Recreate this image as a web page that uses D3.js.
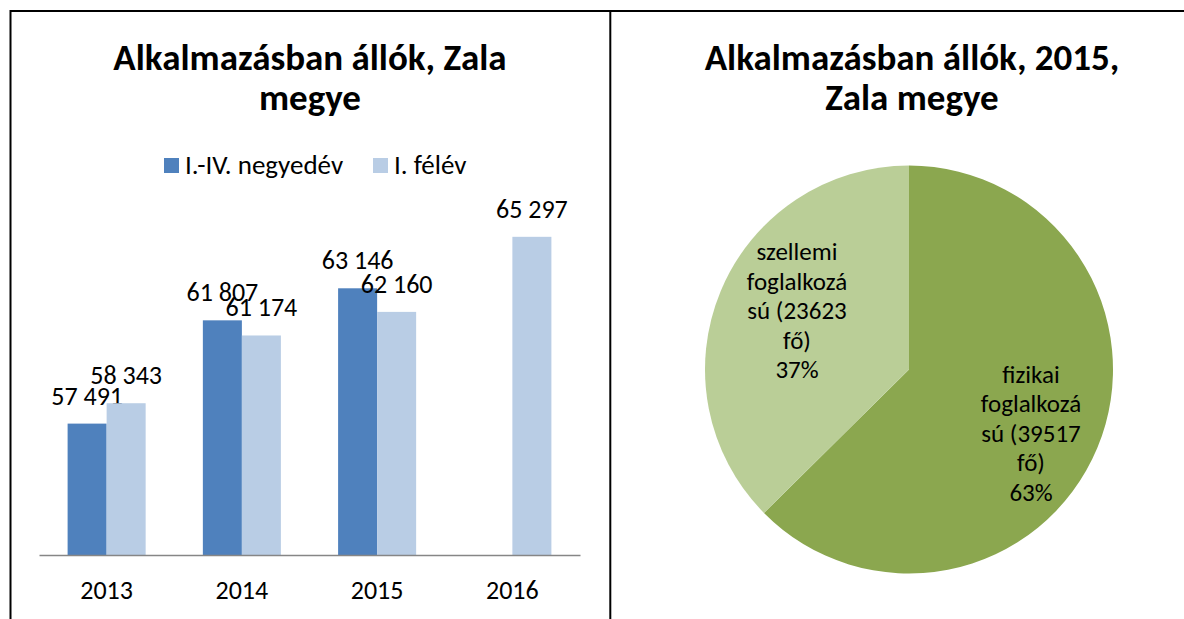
<!DOCTYPE html>
<html>
<head>
<meta charset="utf-8">
<script src="https://cdn.jsdelivr.net/npm/d3@7"></script>
<style>
  body { margin: 0; background: #fff; }
  svg text { font-family: Carlito, Calibri, Lato, sans-serif; fill: #000; }
</style>
</head>
<body>
<div id="chart"></div>
<script>
// bar chart data
const years = ['2013', '2014', '2015', '2016'];
const seriesNames = ['I.-IV. negyedév', 'I. félév'];
const fullYear = [57491, 61807, 63146, null];
const halfYear = [58343, 61174, 62160, 65297];
const barColors = ['#4F81BD', '#B9CDE5'];

// pie chart data
const pieNames = ['fizikai foglalkozású', 'szellemi foglalkozású'];
const pieValues = [39517, 23623];
const pieColors = ['#8BA74F', '#BACE97'];

const width = 1184;
const height = 619;
const fmt = v => d3.format(',')(v).replace(/,/g, ' ');

const svg = d3
  .select('#chart')
  .append('svg')
  .attr('width', width)
  .attr('height', height);

// frame lines
svg.append('line').attr('x1', 10.5).attr('x2', width).attr('y1', 11).attr('y2', 11)
  .attr('stroke', '#000').attr('stroke-width', 2);
svg.append('line').attr('x1', 10.5).attr('x2', 10.5).attr('y1', 10).attr('y2', height)
  .attr('stroke', '#000').attr('stroke-width', 2);
svg.append('line').attr('x1', 610.3).attr('x2', 610.3).attr('y1', 10).attr('y2', height)
  .attr('stroke', '#000').attr('stroke-width', 2);

// ---------- left: grouped bars ----------
const left = svg.append('g');

left.append('text')
  .attr('x', 310).attr('y', 70)
  .attr('text-anchor', 'middle')
  .style('font-size', '37px').style('font-weight', 'bold')
  .text('Alkalmazásban állók, Zala');
left.append('text')
  .attr('x', 310).attr('y', 110)
  .attr('text-anchor', 'middle')
  .style('font-size', '37px').style('font-weight', 'bold')
  .text('megye');

// legend
const legendX = [164, 373];
seriesNames.forEach((name, i) => {
  left.append('rect')
    .attr('x', legendX[i]).attr('y', 158)
    .attr('width', 15).attr('height', 15)
    .attr('fill', barColors[i]);
  left.append('text')
    .attr('x', legendX[i] + 21).attr('y', 174)
    .style('font-size', '27px')
    .text(name);
});

const x0 = d3.scaleBand()
  .domain(years)
  .range([39, 580])
  .paddingInner(0.423)
  .paddingOuter(0.2115);

const x1 = d3.scaleBand()
  .domain([0, 1])
  .range([0, x0.bandwidth()]);

const y = d3.scaleLinear()
  .domain([52000, 66000])
  .range([555, 220]);

const series = [fullYear, halfYear];

const groups = left.selectAll('g.year')
  .data(years)
  .enter()
  .append('g')
  .attr('class', 'year')
  .attr('transform', d => `translate(${x0(d)},0)`);

groups.each(function drawGroup(yr, yi) {
  const g = d3.select(this);
  series.forEach((vals, si) => {
    const v = vals[yi];
    if (v == null) return;
    g.append('rect')
      .attr('x', x1(si))
      .attr('y', y(v))
      .attr('width', x1.bandwidth())
      .attr('height', y.range()[0] - y(v))
      .attr('fill', barColors[si]);
    g.append('text')
      .attr('x', x1(si) + x1.bandwidth() / 2)
      .attr('y', y(v) - 19)
      .attr('text-anchor', 'middle')
      .style('font-size', '26px')
      .text(fmt(v));
  });
});

const xG = left.append('g')
  .attr('transform', 'translate(0,555)')
  .call(d3.axisBottom(x0).tickSize(0).tickSizeOuter(0));
xG.select('.domain').attr('stroke', '#868686').attr('stroke-width', 1.5);
xG.selectAll('text')
  .attr('y', 44).attr('dy', 0)
  .style('font-size', '26px')
  .attr('fill', '#000');

// ---------- right: pie ----------
const right = svg.append('g');

right.append('text')
  .attr('x', 912).attr('y', 70)
  .attr('text-anchor', 'middle')
  .style('font-size', '37px').style('font-weight', 'bold')
  .text('Alkalmazásban állók, 2015,');
right.append('text')
  .attr('x', 912).attr('y', 110)
  .attr('text-anchor', 'middle')
  .style('font-size', '37px').style('font-weight', 'bold')
  .text('Zala megye');

const cx = 909;
const cy = 369.5;
const r = 204;

const pie = d3.pie().sort(null).value(d => d);
const arcs = pie(pieValues);
const arc = d3.arc().innerRadius(0).outerRadius(r);
const labelArc = d3.arc().innerRadius(r * 0.68).outerRadius(r * 0.68);
const total = d3.sum(pieValues);

const pg = right.append('g').attr('transform', `translate(${cx},${cy})`);

pg.selectAll('path')
  .data(arcs)
  .enter()
  .append('path')
  .attr('d', arc)
  .attr('fill', (d, i) => pieColors[i]);

// Excel wraps the label text inside the slice
const labelNudge = [[-6, 19], [16, 3]];
arcs.forEach((a, i) => {
  const [first, second] = pieNames[i].split(' ');
  const pct = Math.round((pieValues[i] / total) * 100);
  const lines = [
    first,
    second.slice(0, 10),
    `${second.slice(10)} (${pieValues[i]}`,
    'fő)',
    `${pct}%`,
  ];
  const [lx, ly] = labelArc.centroid(a);
  const t = pg.append('text')
    .attr('text-anchor', 'middle')
    .style('font-size', '25px');
  lines.forEach((line, li) => {
    t.append('tspan')
      .attr('x', lx + labelNudge[i][0])
      .attr('y', ly + labelNudge[i][1] + (li - 2) * 29.5)
      .text(line);
  });
});
</script>
</body>
</html>
